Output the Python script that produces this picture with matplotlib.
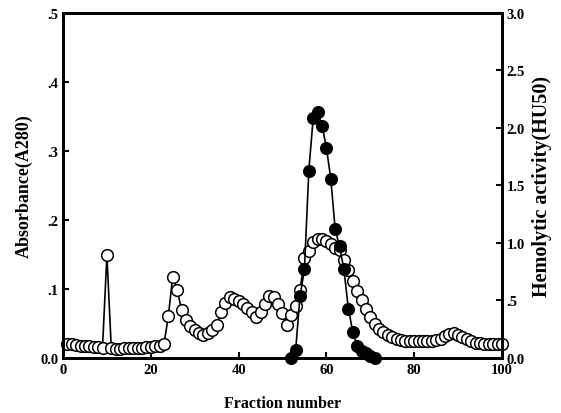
import numpy as np
import matplotlib.pyplot as plt

plt.rcParams['font.family'] = 'Liberation Serif'
plt.rcParams['font.weight'] = 'bold'

# Absorbance at 280 nm, fractions 1-100
fraction = np.arange(1, 101)
absorbance = [
    0.020, 0.020, 0.019, 0.018, 0.018, 0.017, 0.016, 0.016, 0.015, 0.149,
    0.014, 0.013, 0.013, 0.014, 0.014, 0.014, 0.015, 0.015, 0.016, 0.016,
    0.017, 0.018, 0.020, 0.061, 0.118, 0.099, 0.070, 0.055, 0.046, 0.040,
    0.036, 0.034, 0.036, 0.040, 0.048, 0.066, 0.080, 0.088, 0.086, 0.083,
    0.078, 0.072, 0.066, 0.060, 0.066, 0.078, 0.090, 0.088, 0.078, 0.065,
    0.048, 0.062, 0.075, 0.098, 0.145, 0.155, 0.168, 0.172, 0.172, 0.170,
    0.165, 0.160, 0.156, 0.142, 0.128, 0.112, 0.097, 0.084, 0.071, 0.059,
    0.049, 0.042, 0.037, 0.034, 0.031, 0.028, 0.026, 0.025, 0.025, 0.024,
    0.024, 0.024, 0.024, 0.025, 0.026, 0.028, 0.032, 0.035, 0.036, 0.034,
    0.030, 0.027, 0.024, 0.022, 0.021, 0.020, 0.020, 0.020, 0.020, 0.020,
]

# Hemolytic activity (HU50)
act_fraction = np.arange(52, 72)
activity = [
    0.00, 0.07, 0.54, 0.77, 1.63, 2.09, 2.14, 2.02, 1.83, 1.56,
    1.12, 0.97, 0.77, 0.43, 0.23, 0.10, 0.06, 0.04, 0.02, 0.00,
]

left_ticks = [0.0, 0.1, 0.2, 0.3, 0.4, 0.5]
left_labels = ['0.0', '.1', '.2', '.3', '.4', '.5']
right_ticks = [0.0, 0.5, 1.0, 1.5, 2.0, 2.5, 3.0]
right_labels = ['0.0', '.5', '1.0', '1.5', '2.0', '2.5', '3.0']
x_ticks = [0, 20, 40, 60, 80, 100]

fig = plt.figure(figsize=(5.61, 4.14), dpi=100)
ax = fig.add_axes([0.1123, 0.1329, 0.7825, 0.8333])

ax.plot(fraction, absorbance, color='black', lw=1.2, marker='o', ms=8.4,
        mfc='white', mec='black', mew=1.1, clip_on=False)
ax.set_xlim(0, 100)
ax.set_ylim(0, 0.5)
ax.set_xticks(x_ticks)
ax.set_yticks(left_ticks)
ax.set_yticklabels(left_labels)
ax.set_xlabel('Fraction number', fontsize=11.5, fontweight='bold', labelpad=14)
ax.set_ylabel('Absorbance(A280)', fontsize=13, fontweight='bold', labelpad=5)

ax2 = ax.twinx()
ax2.plot(act_fraction, activity, color='black', lw=1.2, marker='o', ms=8.4,
         mfc='black', mec='black', clip_on=False)
ax2.set_ylim(0, 3.0)
ax2.set_yticks(right_ticks)
ax2.set_yticklabels(right_labels)
ax2.set_ylabel('Hemolytic activity(HU50)', fontsize=14.5, fontweight='bold',
               rotation=90, labelpad=5)

for a in (ax, ax2):
    for s in a.spines.values():
        s.set_linewidth(2)
    a.tick_params(direction='in', length=4, width=1.5, labelsize=10.5)

plt.savefig('out.png', dpi=100)
